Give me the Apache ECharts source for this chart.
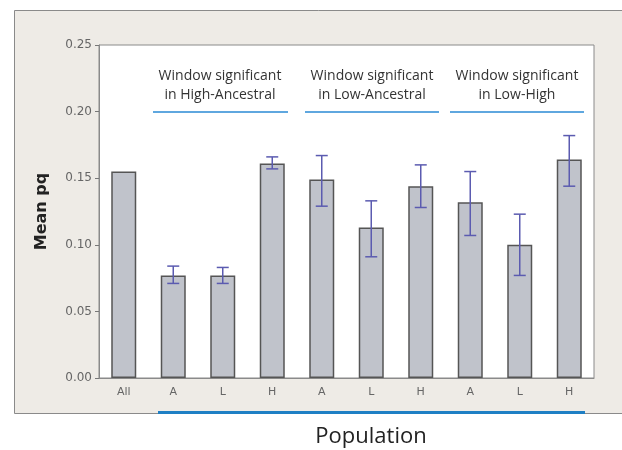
<!DOCTYPE html>
<html>
<head>
<meta charset="utf-8">
<script src="https://cdn.jsdelivr.net/npm/echarts@6/dist/echarts.min.js"></script>
<style>
html,body{margin:0;padding:0;background:#fff;}
#c{width:622px;height:450px;}
</style>
</head>
<body>
<div id="c"></div>
<script>
const categories = ['All','A','L','H','A','L','H','A','L','H'];
const means    = [0.155, 0.077, 0.077, 0.161, 0.149, 0.113, 0.144, 0.132, 0.100, 0.164];
const errLow   = [null, 0.071, 0.071, 0.157, 0.129, 0.091, 0.128, 0.107, 0.077, 0.144];
const errHigh  = [null, 0.084, 0.083, 0.166, 0.167, 0.133, 0.160, 0.155, 0.123, 0.182];
const yTicks = [0, 0.05, 0.10, 0.15, 0.20, 0.25];
const groupTitles = ['Window significant\nin High-Ancestral','Window significant\nin Low-Ancestral','Window significant\nin Low-High'];
const xTitle = 'Population';
const yTitle = 'Mean pq';

const chart = echarts.init(document.getElementById('c'));
const errData = categories.map((c,i)=> errLow[i]==null ? null : [i, errLow[i], errHigh[i]]).filter(d=>d);

const groupCenters = [220, 372, 517];
const lineSpans = [[153,288],[305,439],[450,584]];
const graphics = [
  {type:'rect', z:-10, shape:{x:14.5,y:10.5,width:620,height:403}, style:{fill:'#eeebe6', stroke:'#8a8a8a', lineWidth:1}},
  {type:'rect', z:10, shape:{x:158,y:411,width:427,height:3}, style:{fill:'#1f7fc4'}},
  {type:'text', z:10, style:{text:xTitle, x:371, y:437, align:'center', verticalAlign:'middle', font:'22px "Open Sans"', fill:'#222'}}
];
groupTitles.forEach((t,i)=>{
  graphics.push({type:'text', z:10, style:{text:t, x:groupCenters[i], y:86, align:'center', verticalAlign:'middle', font:'14px "Open Sans"', lineHeight:19, fill:'#333'}});
  graphics.push({type:'line', z:10, shape:{x1:lineSpans[i][0], y1:112, x2:lineSpans[i][1], y2:112}, style:{stroke:'#2a8ad4', lineWidth:1.5}});
});

chart.setOption({
  animation:false,
  backgroundColor:'#ffffff',
  grid:{left:99, right:28, top:45, bottom:72, show:true, backgroundColor:'#ffffff', borderColor:'#8a8a8a', borderWidth:1},
  xAxis:{
    type:'category', data:categories, boundaryGap:true,
    axisLine:{lineStyle:{color:'#8a8a8a', width:1}},
    axisTick:{alignWithLabel:true, length:4, lineStyle:{color:'#777'}},
    axisLabel:{color:'#666', fontSize:11, fontFamily:'DejaVu Sans', margin:9}
  },
  yAxis:{
    type:'value', min:0, max:0.25, interval:0.05,
    name:yTitle, nameLocation:'middle', nameGap:49,
    nameTextStyle:{fontSize:16, fontWeight:'bold', fontFamily:'DejaVu Sans', color:'#222'},
    axisLine:{show:true, lineStyle:{color:'#8a8a8a', width:1}},
    axisTick:{show:true, length:4, lineStyle:{color:'#777'}},
    splitLine:{show:false},
    axisLabel:{color:'#666', fontSize:12, fontFamily:'DejaVu Sans', margin:7, formatter:v=>v.toFixed(2)}
  },
  graphic:graphics,
  series:[
    {type:'bar', data:means, barWidth:25,
     itemStyle:{color:'#c0c3cb', borderColor:'#555', borderWidth:1.5}},
    {type:'custom', data:errData, z:5,
     renderItem:function(params, api){
       const x = api.value(0);
       const lo = api.coord([x, api.value(1)]);
       const hi = api.coord([x, api.value(2)]);
       const hw = 6;
       const st = {stroke:'#5b5bb0', lineWidth:1.5};
       return {type:'group', children:[
         {type:'line', shape:{x1:lo[0], y1:lo[1], x2:hi[0], y2:hi[1]}, style:st},
         {type:'line', shape:{x1:lo[0]-hw, y1:lo[1], x2:lo[0]+hw, y2:lo[1]}, style:st},
         {type:'line', shape:{x1:hi[0]-hw, y1:hi[1], x2:hi[0]+hw, y2:hi[1]}, style:st}
       ]};
     }}
  ]
});
</script>
</body>
</html>
